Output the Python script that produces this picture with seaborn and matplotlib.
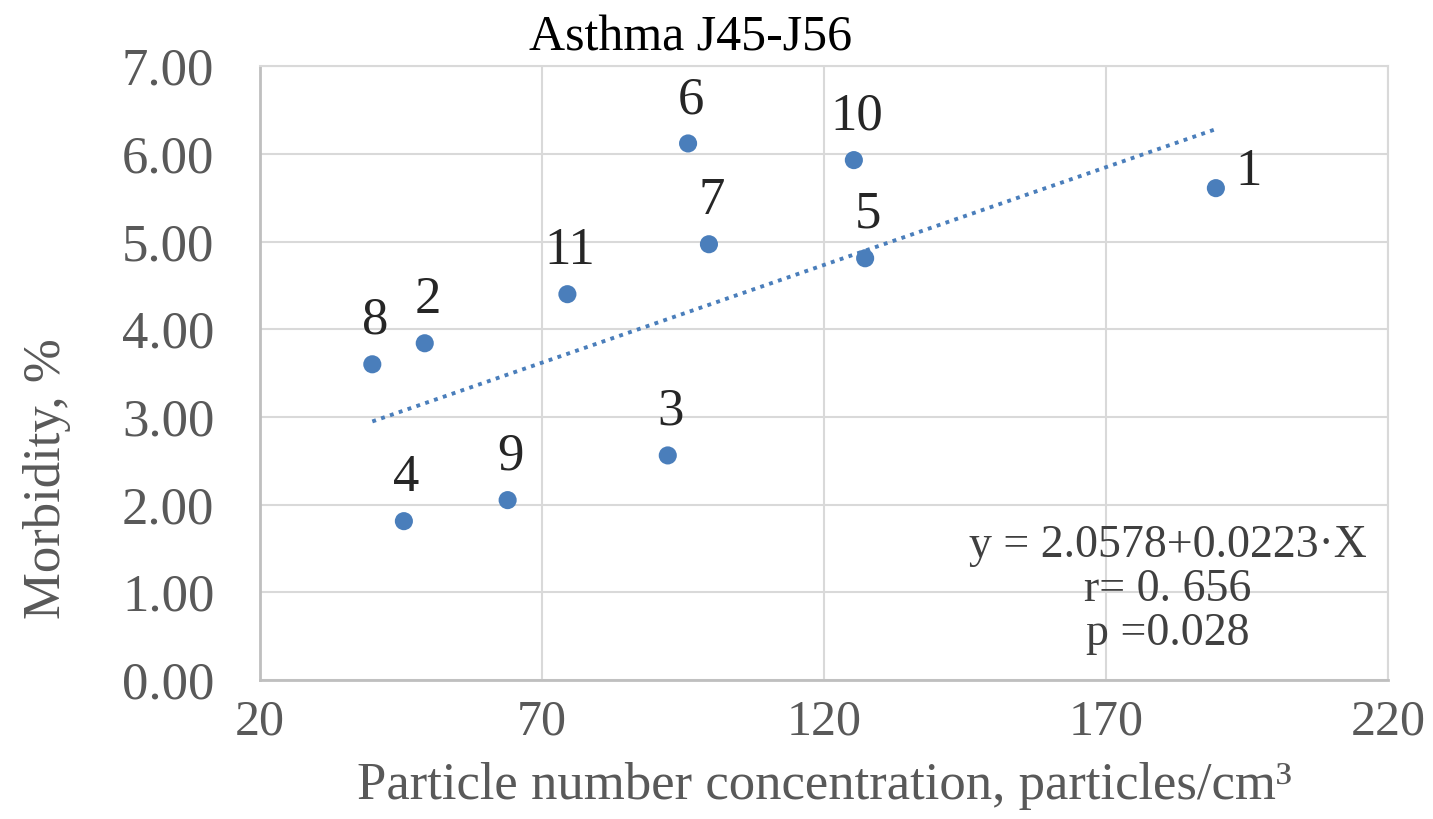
import matplotlib
matplotlib.use("Agg")
import matplotlib.pyplot as plt
import seaborn as sns
import numpy as np
import pandas as pd

# Data
site_ids = ["1", "2", "3", "4", "5", "6", "7", "8", "9", "10", "11"]
concentration = [189.5, 49.2, 92.3, 45.5, 127.3, 95.9, 99.6, 39.9, 63.9, 125.3, 74.5]
morbidity = [5.61, 3.84, 2.56, 1.81, 4.81, 6.12, 4.97, 3.60, 2.05, 5.93, 4.40]
intercept = 2.0578
slope = 0.0223
x_ticks = [20, 70, 120, 170, 220]
y_ticks = [0, 1, 2, 3, 4, 5, 6, 7]

df = pd.DataFrame({"x": concentration, "y": morbidity, "id": site_ids})

sns.set_theme(style="white")
plt.rcParams["font.family"] = ["Liberation Serif", "DejaVu Serif"]

fig = plt.figure(figsize=(14.33, 8.19), dpi=100)
ax = fig.add_axes([0.1815, 0.170, 0.787, 0.749])

blue = "#4a7ebb"
grey_txt = "#595959"
fs = 38

sns.scatterplot(data=df, x="x", y="y", ax=ax, color=blue, s=170,
                edgecolor="none", zorder=3, legend=False)

# trend line
xs = np.array([min(concentration), max(concentration)])
ax.plot(xs, intercept + slope * xs, linestyle=(0, (1, 1.4)), color=blue,
        linewidth=2.8, zorder=2)

# point labels
for xi, yi, lab in zip(concentration, morbidity, site_ids):
    if lab == "1":
        ax.annotate(lab, (xi, yi), xytext=(14, -6), textcoords="offset points",
                    ha="left", va="bottom", fontsize=fs, color="#262626")
    else:
        ax.annotate(lab, (xi, yi), xytext=(2, 14), textcoords="offset points",
                    ha="center", va="bottom", fontsize=fs, color="#262626")

ax.set_xlim(20, 220)
ax.set_ylim(0, 7)
ax.set_xticks(x_ticks)
ax.set_yticks(y_ticks)
ax.set_xticklabels([str(t) for t in x_ticks])
ax.set_yticklabels([f"{t:.2f}" for t in y_ticks])
ax.tick_params(axis="both", labelsize=fs, colors=grey_txt, length=0)
ax.tick_params(axis="x", pad=14, labelsize=36)
ax.tick_params(axis="y", pad=33)

ax.grid(True, color="#d9d9d9", linewidth=1.5)
ax.set_axisbelow(True)
for side in ["top", "right"]:
    ax.spines[side].set_color("#d9d9d9")
    ax.spines[side].set_linewidth(1.5)
for side in ["left", "bottom"]:
    ax.spines[side].set_color("#bfbfbf")
    ax.spines[side].set_linewidth(2)

ax.set_xlabel("Particle number concentration, particles/cm³", fontsize=fs,
              color=grey_txt, labelpad=12)
ax.set_ylabel("")
fig.text(0.033, 0.415, "Morbidity, %", rotation=90, fontsize=fs,
         color=grey_txt, ha="center", va="center")

fig.text(0.482, 0.953, "Asthma J45-J56", fontsize=36, color="black",
         ha="center", va="center")

ax.text(0.805, 0.147, "y = 2.0578+0.0223·X\nr= 0. 656\np =0.028",
        transform=ax.transAxes, fontsize=33, color="#404040",
        ha="center", va="center", multialignment="center", linespacing=1.05)

fig.savefig("out.png", dpi=100)
